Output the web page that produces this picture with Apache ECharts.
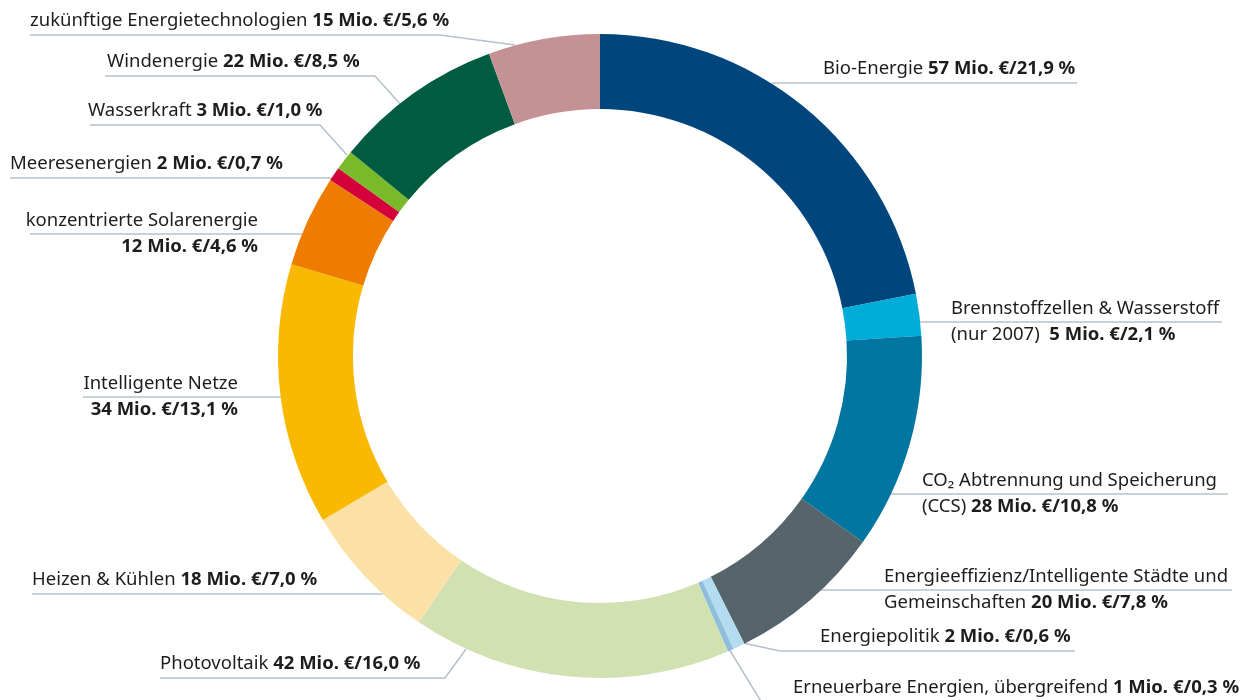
<!DOCTYPE html>
<html>
<head>
<meta charset="utf-8">
<script src="https://cdn.jsdelivr.net/npm/echarts@6/dist/echarts.min.js"></script>
<style>
  html, body { margin: 0; padding: 0; background: #fff; }
  #chart { width: 1240px; height: 700px; }
</style>
</head>
<body>
<div id="chart"></div>
<script>
// Kategorien (Zeilenumbruch = zweizeiliges Label)
var names = [
  'Bio-Energie',
  'Brennstoffzellen & Wasserstoff\n(nur 2007)  ',
  'CO₂ Abtrennung und Speicherung\n(CCS) ',
  'Energieeffizienz/Intelligente Städte und\nGemeinschaften ',
  'Energiepolitik',
  'Erneuerbare Energien, übergreifend',
  'Photovoltaik',
  'Heizen & Kühlen',
  'Intelligente Netze\n',
  'konzentrierte Solarenergie\n',
  'Meeresenergien',
  'Wasserkraft',
  'Windenergie',
  'zukünftige Energietechnologien'
]
var mio = [57, 5, 28, 20, 2, 1, 42, 18, 34, 12, 2, 3, 22, 15]
var pct = [21.9, 2.1, 10.8, 7.8, 0.6, 0.3, 16.0, 7.0, 13.1, 4.6, 0.7, 1.0, 8.5, 5.6]
var colors = [
  '#00457c', '#00acd8', '#0076a0', '#56646c', '#b3dcf0', '#8fbedc', '#d1e1b1',
  '#fce1a7', '#f9b900', '#ee7c00', '#d4003b', '#79b92a', '#005c40', '#c49195'
]

// Label-Positionen: x, Textmitte y, Ausrichtung, Linienpunkte
var labelPos = [
  { x: 823, y: 69, align: 'left', pts: [[772, 83], [790, 83], [1077, 83]] },
  { x: 951, y: 322, align: 'left', pts: [[920, 322], [935, 322], [1222, 322]] },
  { x: 922, y: 494, align: 'left', pts: [[891, 494], [905, 494], [1228, 494]] },
  { x: 884, y: 590, align: 'left', pts: [[821, 590], [840, 590], [1232, 590]] },
  { x: 820, y: 637, align: 'left', pts: [[743, 643], [780, 651], [1075, 651]] },
  { x: 793, y: 688, align: 'left', pts: [[729, 649], [762, 703], [1240, 703]] },
  { x: 160, y: 664, align: 'left', pts: [[466, 649], [445, 678], [160, 678]] },
  { x: 32, y: 580, align: 'left', pts: [[383, 594], [370, 594], [32, 594]] },
  { x: 238, y: 397, align: 'right', pts: [[282, 397], [270, 397], [83, 397]] },
  { x: 258, y: 234, align: 'right', pts: [[302, 234], [290, 234], [30, 234]] },
  { x: 10, y: 164, align: 'left', pts: [[333, 178], [320, 178], [10, 178]] },
  { x: 88, y: 111, align: 'left', pts: [[347, 155], [320, 125], [90, 125]] },
  { x: 107, y: 62, align: 'left', pts: [[402, 106], [375, 76], [105, 76]] },
  { x: 30, y: 21, align: 'left', pts: [[515, 45], [440, 35], [30, 35]] }
]

function fmtLabel (i) {
  var lines = names[i].split('\n')
  var bold = mio[i] + ' Mio. €/' + pct[i].toFixed(1).replace('.', ',') + ' %'
  var out = []
  for (var k = 0; k < lines.length; k++) {
    var s = ''
    if (lines[k].trim() !== '' || k < lines.length - 1) s = '{n|' + lines[k] + (k === lines.length - 1 && lines.length === 1 ? ' ' : '') + '}'
    if (k === lines.length - 1) s += '{b|' + bold + '}'
    out.push(s)
  }
  return out.join('\n')
}

var seriesData = names.map(function (n, i) {
  return { name: n, value: pct[i], itemStyle: { color: colors[i] } }
})

var fs = 18.5
var myChart = echarts.init(document.getElementById('chart'))
myChart.setOption({
  animation: false,
  series: [
    {
      type: 'pie',
      center: [600, 356],
      radius: [247, 322],
      startAngle: 90,
      clockwise: true,
      avoidLabelOverlap: false,
      silent: true,
      data: seriesData,
      label: {
        show: true,
        position: 'outside',
        formatter: function (p) { return fmtLabel(p.dataIndex) },
        color: '#1d1d1b',
        fontFamily: 'Noto Sans',
        fontSize: fs,
        lineHeight: 26,
        rich: {
          n: { fontFamily: 'Noto Sans', fontSize: fs, lineHeight: 26, color: '#1d1d1b' },
          b: { fontFamily: 'Noto Sans', fontSize: fs, lineHeight: 26, fontWeight: 'bold', color: '#1d1d1b' }
        }
      },
      labelLine: {
        show: true,
        lineStyle: { color: '#b7c0c9', width: 1.5 }
      },
      labelLayout: function (params) {
        var L = labelPos[params.dataIndex]
        return {
          x: L.x,
          y: L.y,
          align: L.align,
          verticalAlign: 'middle',
          labelLinePoints: L.pts
        }
      }
    }
  ]
})
</script>
</body>
</html>
